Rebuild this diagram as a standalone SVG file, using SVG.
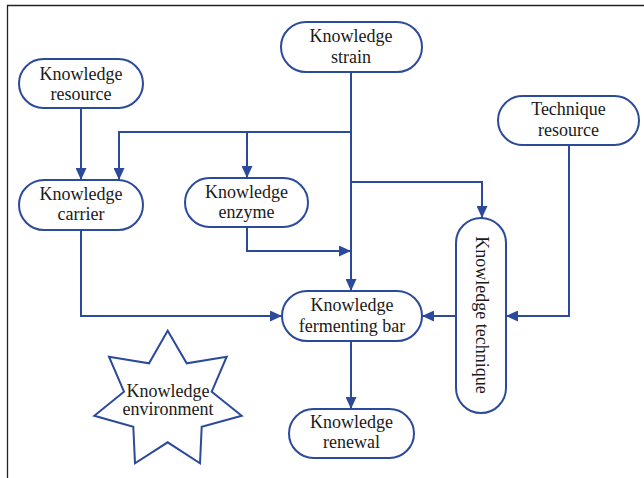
<svg xmlns="http://www.w3.org/2000/svg" width="644" height="478" viewBox="0 0 644 478">
<style>
.box{fill:#fff;stroke:#2c4a9c;stroke-width:2}
.ln{fill:none;stroke:#2c4a9c;stroke-width:2}
text{font-family:"Liberation Serif","Times New Roman",serif;font-size:18px;fill:#1a1a1a;text-anchor:middle}
</style>
<defs>
<marker id="ah" markerUnits="userSpaceOnUse" markerWidth="12" markerHeight="11" refX="12" refY="5.5" orient="auto">
<path d="M0,0 L12,5.5 L0,11 z" fill="#2c4a9c"/>
</marker>
</defs>
<rect width="644" height="478" fill="#fff"/>
<path d="M7.5,478 V5.5 H644" fill="none" stroke="#222" stroke-width="1.3"/>
<g id="connectors">
<path class="ln" d="M81,108 V180" marker-end="url(#ah)"/>
<path class="ln" d="M351,72 V291" marker-end="url(#ah)"/>
<path class="ln" d="M351,132 H119 V180" marker-end="url(#ah)"/>
<path class="ln" d="M247,132 V178" marker-end="url(#ah)"/>
<path class="ln" d="M351,182 H482 V218" marker-end="url(#ah)"/>
<path class="ln" d="M247,227 V251 H351" marker-end="url(#ah)"/>
<path class="ln" d="M81,230 V316 H282" marker-end="url(#ah)"/>
<path class="ln" d="M456,316 H422" marker-end="url(#ah)"/>
<path class="ln" d="M569,145 V316 H506" marker-end="url(#ah)"/>
<path class="ln" d="M351,341 V409" marker-end="url(#ah)"/>
</g>
<g id="strain">
<rect class="box" x="281" y="22" width="141" height="50" rx="25"/>
<text x="351" y="42">Knowledge</text><text x="351" y="62.5">strain</text>
</g>
<g id="resource">
<rect class="box" x="19" y="59" width="124" height="49" rx="24.5"/>
<text x="81" y="80">Knowledge</text><text x="81" y="99.5">resource</text>
</g>
<g id="carrier">
<rect class="box" x="19" y="180" width="124" height="50" rx="25"/>
<text x="81" y="200">Knowledge</text><text x="81" y="220">carrier</text>
</g>
<g id="enzyme">
<rect class="box" x="185" y="178" width="123" height="49" rx="24.5"/>
<text x="246.5" y="197.5">Knowledge</text><text x="246.5" y="217.5">enzyme</text>
</g>
<g id="technique-resource">
<rect class="box" x="498" y="96" width="141" height="49" rx="24.5"/>
<text x="568.5" y="115">Technique</text><text x="568.5" y="136">resource</text>
</g>
<g id="technique">
<rect class="box" x="456" y="218" width="50" height="195" rx="25"/>
<text transform="translate(476,315) rotate(90)" x="0" y="0">Knowledge technique</text>
</g>
<g id="fermenting-bar">
<rect class="box" x="282" y="291" width="140" height="50" rx="25"/>
<text x="352" y="311">Knowledge</text><text x="352" y="331.5">fermenting bar</text>
</g>
<g id="renewal">
<rect class="box" x="289" y="409" width="125" height="49" rx="24.5"/>
<text x="351.5" y="427.5">Knowledge</text><text x="351.5" y="448">renewal</text>
</g>
<g id="environment">
<polygon class="box" points="167.7,330.7 186.7,363.3 226.7,356.7 211.7,391.7 241.7,415.7 201.7,426.7 200,463.3 167.7,442.3 135,463.3 133.3,426.7 94.3,415.7 124,391.7 109,356.7 149,363.3"/>
<text x="168" y="396.5">Knowledge</text><text x="168" y="415">environment</text>
</g>
</svg>
